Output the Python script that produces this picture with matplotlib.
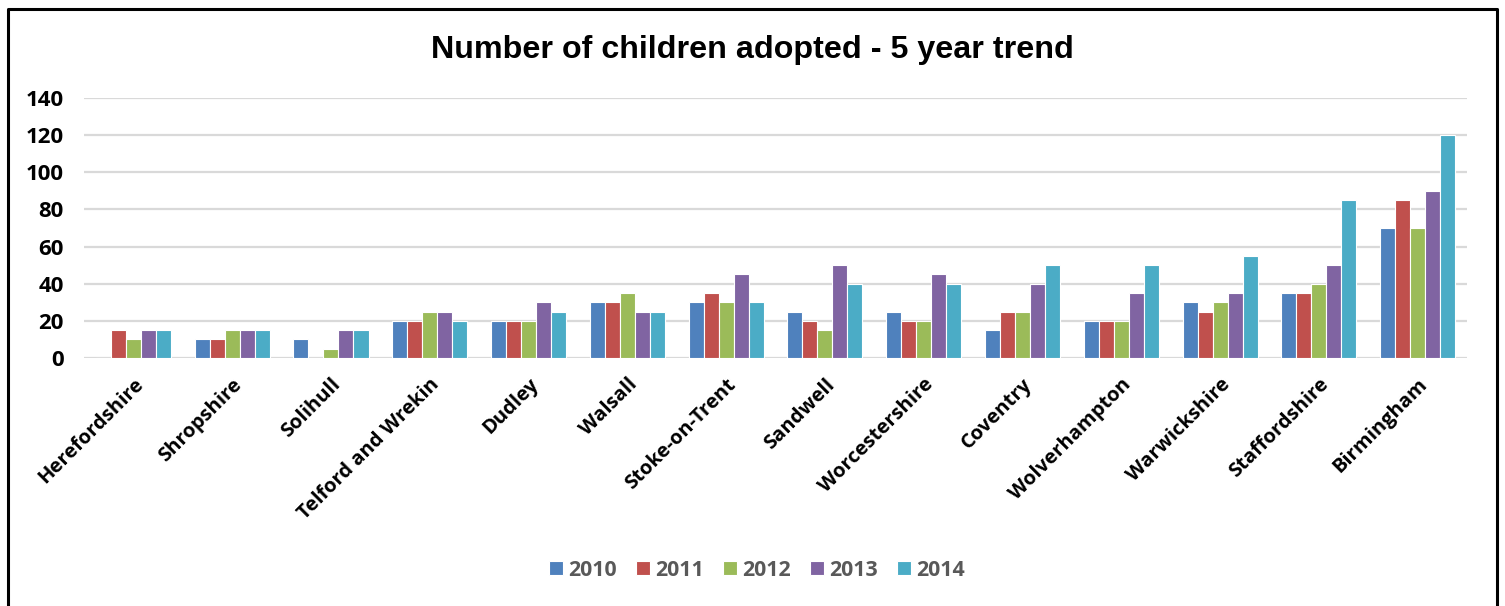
import numpy as np
import matplotlib
matplotlib.use('Agg')
import matplotlib.pyplot as plt
from matplotlib.lines import Line2D

# Data
areas = ['Herefordshire', 'Shropshire', 'Solihull', 'Telford and Wrekin', 'Dudley',
         'Walsall', 'Stoke-on-Trent', 'Sandwell', 'Worcestershire', 'Coventry',
         'Wolverhampton', 'Warwickshire', 'Staffordshire', 'Birmingham']
years = ['2010', '2011', '2012', '2013', '2014']
y2010 = [0, 10, 10, 20, 20, 30, 30, 25, 25, 15, 20, 30, 35, 70]
y2011 = [15, 10, 0, 20, 20, 30, 35, 20, 20, 25, 20, 25, 35, 85]
y2012 = [10, 15, 5, 25, 20, 35, 30, 15, 20, 25, 20, 30, 40, 70]
y2013 = [15, 15, 15, 25, 30, 25, 45, 50, 45, 40, 35, 35, 50, 90]
y2014 = [15, 15, 15, 20, 25, 25, 30, 40, 40, 50, 50, 55, 85, 120]
y_ticks = [0, 20, 40, 60, 80, 100, 120, 140]

colors = ['#4F81BD', '#C0504D', '#9BBB59', '#8064A2', '#4BACC6']
series = [y2010, y2011, y2012, y2013, y2014]
label_font = 'Open Sans'

fig = plt.figure(figsize=(15.05, 6.06), dpi=100)
ax = fig.add_axes([0.0558, 0.4092, 0.9190, 0.4291])

x = np.arange(len(areas))
width = 0.152
for i, (vals, col, yr) in enumerate(zip(series, colors, years)):
    ax.bar(x + (i - 2) * width, vals, width, color=col, edgecolor='white',
           linewidth=0.8, label=yr, zorder=3)

ax.set_xlim(-0.5, len(areas) - 0.5)
ax.set_ylim(0, 140)
ax.set_yticks(y_ticks)
ax.yaxis.grid(True, color='#d9d9d9', linewidth=1.6, zorder=0)
for s in ax.spines.values():
    s.set_visible(False)
ax.tick_params(axis='both', length=0)
ax.tick_params(axis='y', pad=14.5)
ax.set_yticklabels([str(t) for t in y_ticks], fontfamily=label_font,
                   fontweight='bold', fontsize=16)
ax.set_xticks(x)
ax.set_xticklabels(areas, rotation=45, ha='right', rotation_mode='anchor',
                   fontfamily=label_font, fontweight='bold', fontsize=14.5)
ax.tick_params(axis='x', pad=12)

fig.text(0.5, 0.918, 'Number of children adopted - 5 year trend',
         ha='center', va='center', fontfamily='Liberation Sans',
         fontweight='bold', fontsize=23.2)

leg = fig.legend(loc='center', bbox_to_anchor=(0.503, 0.059), ncol=5,
                 frameon=False, handlelength=0.65, handleheight=0.65,
                 handletextpad=0.25, columnspacing=0.9,
                 prop={'family': label_font, 'weight': 'bold', 'size': 15.4})
for t in leg.get_texts():
    t.set_color('#595959')

# outer chart border (top, left, right)
fig.add_artist(Line2D([0.0053, 0.0053, 0.9950, 0.9950],
                      [0.0, 0.985, 0.985, 0.0], color='black', linewidth=2.2,
                      transform=fig.transFigure))

fig.savefig('out.png', dpi=100, facecolor='white')
